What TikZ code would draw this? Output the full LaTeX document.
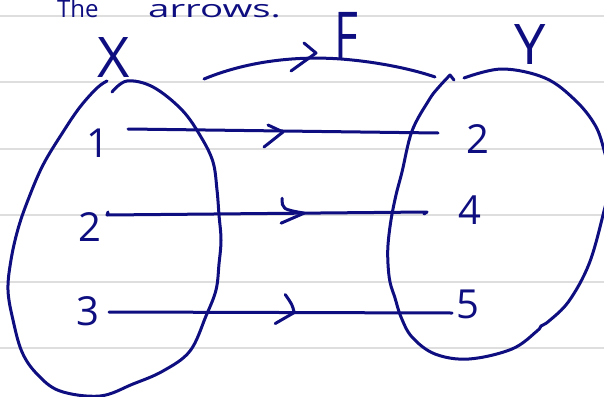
\documentclass[tikz,border=0pt]{standalone}
\usepackage{fontspec}
\setmainfont{Open Sans}
\usetikzlibrary{calc}
\definecolor{pen}{RGB}{14,14,128}
\definecolor{ruleline}{RGB}{222,222,222}
\begin{document}
\begin{tikzpicture}[x=1pt,y=-1pt,
  ink/.style={draw=pen,line width=3pt,line cap=round,line join=round},
  lbl/.style={text=pen,inner sep=0pt,font=\fontsize{40}{40}\selectfont},
  big/.style={text=pen,inner sep=0pt,font=\fontsize{56}{56}\selectfont},
  ruled/.style={draw=ruleline,line width=1.4pt}]
\useasboundingbox (0,0) rectangle (604,396);
\clip (0,0) rectangle (604,396);
\fill[white] (0,0) rectangle (604,396);
% ruled paper
\foreach \yy in {16,82,149,215,282,348} \draw[ruled] (0,\yy) -- (604,\yy);
% title
\node[text=pen,inner sep=0pt,anchor=base west,font=\fontsize{24}{24}\selectfont] (the) at (57,17.5) {The};
\node[text=pen,inner sep=0pt,anchor=base west,font=\fontsize{24}{24}\selectfont] (arrows) at (148,17.5) {\scalebox{1.6}[1]{arrows.}};
% set names
\node[big] (X) at (114,58) {X};
\node[big] (Y) at (530,45) {Y};
\node[text=pen,inner sep=0pt,font=\fontsize{66}{66}\selectfont] (F) at (346,36) {\scalebox{0.7}[1]{F}};
% elements
\node[lbl] (a1) at (98,143) {1};
\node[lbl] (a2) at (90,227) {2};
\node[lbl] (a3) at (88,311) {3};
\node[lbl] (b2) at (478,139) {2};
\node[lbl] (b4) at (470,210) {4};
\node[lbl] (b5) at (468,304) {5};
% left set X
\draw[ink] plot[smooth,tension=0.6] coordinates {(112,92) (127,81) (153,87) (182,110) (201,137) (213,162) (217,190) (219,215) (221,240) (219,264) (216,290) (206,316) (190,351) (163,371) (133,384) (100,396) (60,391) (37,374) (22,352) (13,320) (8,290) (11,260) (18,229) (28,200) (43,165) (63,132) (80,107) (97,88) (107,81)};
% right set Y
\draw[ink] (454,80) -- plot[smooth,tension=0.6] coordinates {(450,75) (438,88) (429,100) (412,131) (402,172) (396,195) (391,220) (388,245) (388,264) (390,282) (395,298) (401,317) (412,337) (435,354) (469,359) (512,349) (537,331) (541,326) (549,321) (569,301) (589,264) (603,215) (610,180) (604,150) (595,125) (575,100) (545,78) (502,69) (464,78)};
% the map f from X to Y
\coordinate (fs) at (204,79);
\coordinate (fm) at (341,59);
\coordinate (fe) at (435,77);
\draw[ink] (fs) .. controls (250,60) and (300,56) .. (fm) .. controls (380,62) and (415,70) .. (fe);
\coordinate (ft) at (316,53);
\draw[ink] ($(ft)+(-12,-10)$) -- (ft) -- ($(ft)+(-25,18)$);
% arrows between elements
\coordinate (s1) at (128,129); \coordinate (e1) at (438,133);
\coordinate (s2) at (107,215); \coordinate (e2) at (427,212);
\coordinate (s3) at (109,312); \coordinate (e3) at (452,313);
\draw[ink] (s1) -- coordinate[pos=0.5] (m1) (e1);
\draw[ink] ($(s2)+(1,-3)$) -- (s2) -- coordinate[pos=0.616] (m2) (e2) -- ++(-3,2);
\draw[ink] (s3) -- coordinate[pos=0.54] (m3) (e3);
\draw[ink] ($(m1)+(-15,-6)$) -- ($(m1)+(0,1)$) -- ($(m1)+(-19,16)$);
\draw[ink] ($(m2)+(-22,-15)$) .. controls ($(m2)+(-22,-4)$) .. (m2) -- ($(m2)+(-23,10)$);
\draw[ink] ($(m3)+(-9,-18)$) .. controls ($(m3)+(-2,-8)$) .. (m3) -- ($(m3)+(-19,11)$);
\end{tikzpicture}
\end{document}
